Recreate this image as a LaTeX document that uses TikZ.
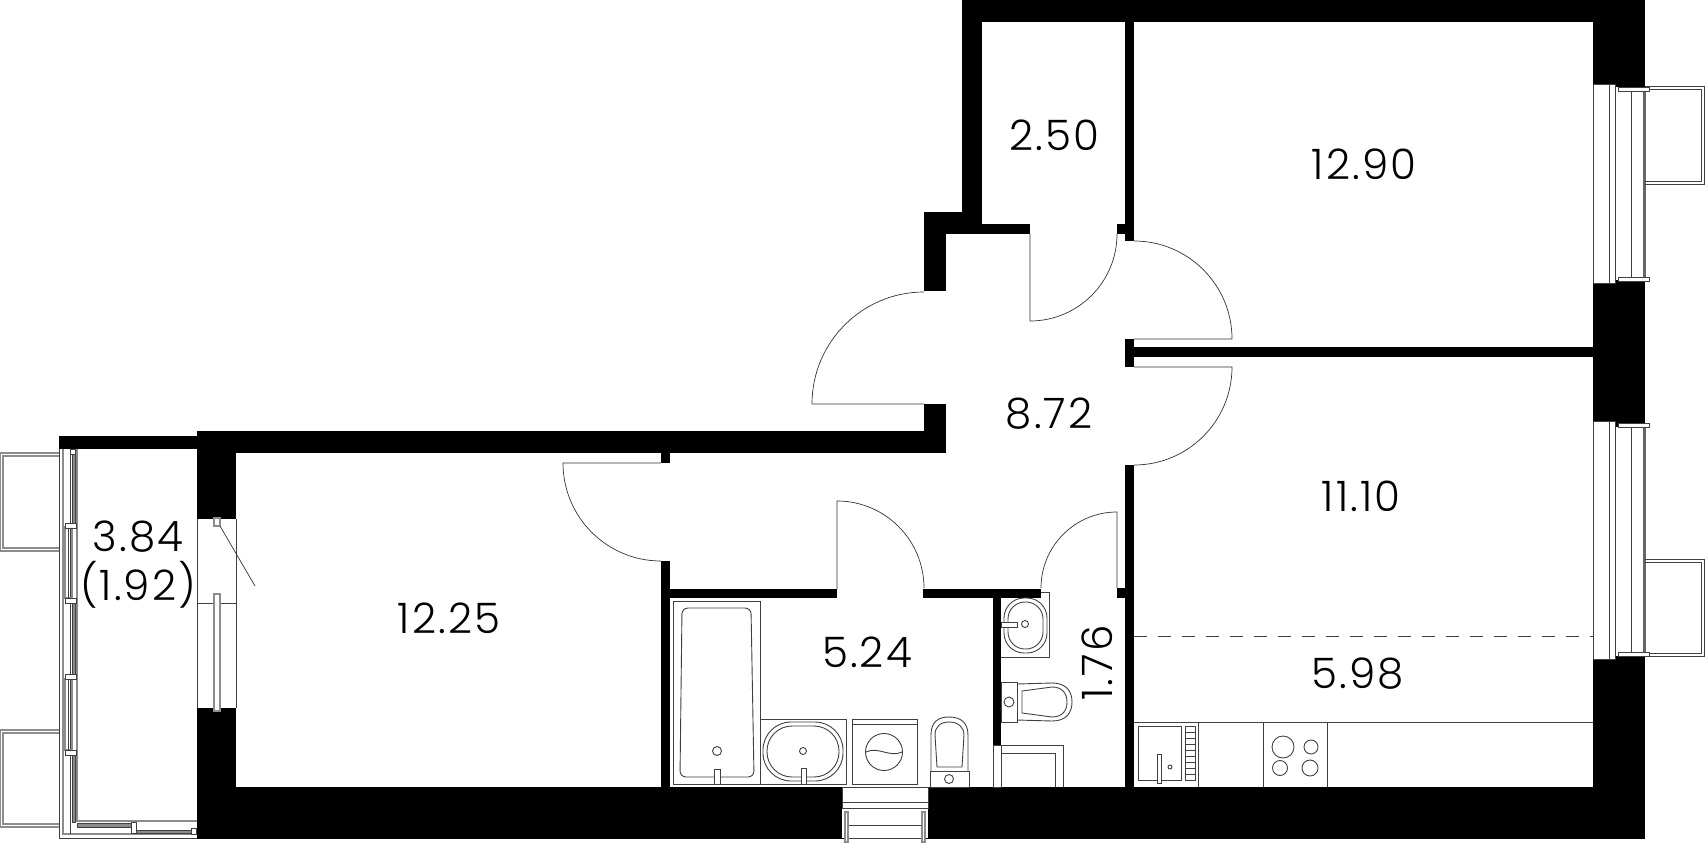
\documentclass[tikz,border=0pt]{standalone}
\usepackage{fontspec}
\setmainfont[LetterSpace=5]{Poppins Light}
\tikzset{
  wall/.style={fill=black,draw=none},
  opening/.style={fill=white,draw=black!75,line width=0.8pt},
  fine/.style={draw=black!75,line width=0.9pt},
  pale/.style={draw=black!45,line width=1.2pt},
  swing/.style={draw=black!80,line width=0.7pt},
  fixture/.style={draw=black!75,line width=0.9pt,fill=white},
  area/.style={inner sep=0pt,font=\fontsize{42}{49}\selectfont,align=center}
}
\begin{document}
\begin{tikzpicture}[x=1pt,y=-1pt]
\useasboundingbox (0,0) rectangle (1705,843);
\fill[wall] (962,0) rectangle (1645,22);
\fill[wall] (962,0) rectangle (982,234);
\fill[wall] (924,212) rectangle (982,234);
\fill[wall] (982,224) rectangle (1030,234);
\fill[wall] (924,212) rectangle (946,291);
\fill[wall] (924,404) rectangle (946,453);
\fill[wall] (197,431) rectangle (946,453);
\fill[wall] (197,431) rectangle (236,519);
\fill[wall] (197,708) rectangle (236,787);
\fill[wall] (197,787) rectangle (1645,839);
\fill[wall] (59,436) rectangle (197,449);
\fill[wall] (661,453) rectangle (670,463);
\fill[wall] (661,561) rectangle (670,787);
\fill[wall] (661,589) rectangle (837,598);
\fill[wall] (923,589) rectangle (1041,598);
\fill[wall] (993,589) rectangle (1001,745);
\fill[wall] (1117,588) rectangle (1125,598);
\fill[wall] (1125,0) rectangle (1134,241);
\fill[wall] (1117,224) rectangle (1125,234);
\fill[wall] (1125,339) rectangle (1134,367);
\fill[wall] (1134,347) rectangle (1593,357);
\fill[wall] (1125,465) rectangle (1134,787);
\fill[wall] (1593,0) rectangle (1645,839);
\draw[swing] (924,404) -- (812,404) arc[start angle=180,end angle=270,radius=112];
\draw[swing] (1030,234) -- (1030,321) arc[start angle=90,end angle=0,radius=87];
\draw[swing] (1134,339) -- (1232,339) arc[start angle=360,end angle=270,radius=98];
\draw[swing] (1134,367) -- (1232,367) arc[start angle=0,end angle=90,radius=98];
\draw[swing] (661,463) -- (563,463) arc[start angle=180,end angle=90,radius=98];
\draw[swing] (837,589) -- (837,501) arc[start angle=270,end angle=360,radius=87];
\draw[swing] (1117,588) -- (1117,512) arc[start angle=270,end angle=180,radius=76];
\foreach \ya/\yb/\yc/\yd in {84/283/87/280,421/659/427/656} {
  \fill[white] (1615,\yc) rectangle (1645,\yd);
  \draw[opening] (1593,\ya) rectangle (1609,\yb);
  \draw[opening] (1609,\ya) rectangle (1615,\yb);
  \draw[fine] (1631,\yc) -- (1631,\yd);
  \fill[black!60] (1643,\yc) rectangle (1645.5,\yd);
}
\foreach \ya/\yb in {86/184,559/656} {
  \draw[fine] (1645,\ya) -- (1704.5,\ya) -- (1704.5,\yb) -- (1645,\yb);
  \draw[fine] (1645,\ya+3) -- (1701,\ya+3) -- (1701,\yb-3) -- (1645,\yb-3);
}
\foreach \ya in {87,277,423,652}
  \draw[fixture] (1618,\ya) rectangle (1649,\ya+4);
\foreach \ya/\yb in {453/551,730/827} {
  \draw[pale] (59,\ya) -- (0.5,\ya) -- (0.5,\yb) -- (59,\yb);
  \draw[pale] (59,\ya+3) -- (3,\ya+3) -- (3,\yb-3) -- (59,\yb-3);
}
\draw[fine] (59,449) -- (59,838.5) -- (197,838.5);
\draw[pale] (63,449) -- (63,834) -- (197,834);
\draw[pale] (77,449) -- (77,821) -- (197,821);
\draw[fine] (70,449) -- (70,834);
\foreach \ya/\yb in {527/598,679/750} {
  \draw[pale] (65,\ya) rectangle (72,\yb);
  \draw[fine] (68,\ya) -- (68,\yb);
}
\foreach \ya/\yb in {454/523,603/674,755/822}
  \draw[fine,fill=black!45] (72,\ya) rectangle (75,\yb);
\foreach \ya in {523,598,674,750}
  \draw[fixture] (65,\ya) rectangle (76,\ya+5);
\draw[fixture] (70,449) rectangle (75,454);
\draw[fine,fill=black!45] (77,823) rectangle (131,827);
\draw[fine,fill=black!45] (136,830) rectangle (191,833);
\draw[fixture] (131,822) rectangle (136,833);
\draw[fixture] (191,828) rectangle (196,834);
\draw[fine] (197,519) -- (197,708);
\draw[fine] (236,519) -- (236,708);
\draw[fine] (197,603) -- (236,603);
\draw[pale,fill=white] (214,594) rectangle (220,711);
\draw[pale,fill=white] (214,518) rectangle (220,526);
\draw[swing] (220,526) -- (255,586);
\draw[fixture] (673,601) rectangle (760,784);
\draw[fine,rounded corners=6pt] (682,608) -- (751,608) -- (754,777) -- (680,777) -- cycle;
\draw[fine] (717,751) circle[radius=4.5];
\draw[fixture] (714,769) rectangle (720,784);
\draw[fixture] (760,719) rectangle (846,784);
\draw[fine,rounded corners=28pt] (763,722) rectangle (843,781);
\draw[fine,rounded corners=25pt] (767,726) rectangle (839,777);
\draw[fine] (803,751) circle[radius=3.5];
\draw[fixture] (801,768) rectangle (806,784);
\draw[fixture] (852,719) rectangle (917,784);
\draw[fine] (852,724) -- (917,724);
\draw[fine] (884,752) circle[radius=18.5];
\draw[fine] (866,752) .. controls (878,746) and (890,758) .. (902,752);
\draw[fine] (931,771) -- (931,735) .. controls (931,722) and (938,717) .. (949,717) .. controls (960,717) and (968,722) .. (968,735) -- (968,771);
\draw[fine] (937,767) -- (935,735) .. controls (935,727) and (940,722) .. (949,722) .. controls (958,722) and (964,727) .. (964,735) -- (962,767) -- cycle;
\draw[fixture] (930,771) rectangle (969,787);
\draw[fine] (949,779) circle[radius=4.5];
\draw[fine] (1001,657) -- (1049,657) -- (1049,592) -- (1041,592);
\draw[fine,rounded corners=20pt] (1004,598) rectangle (1047,653);
\draw[fine,rounded corners=17pt] (1008,602) rectangle (1043,649);
\draw[fine] (1025,624) circle[radius=3.5];
\draw[fixture] (1001,622) rectangle (1017,627);
\draw[fixture] (1001,682) rectangle (1017,722);
\draw[fine] (1009,702) circle[radius=5];
\draw[fine] (1017,684) -- (1052,683) .. controls (1065,683) and (1072,690) .. (1072,702) .. controls (1072,714) and (1065,721) .. (1052,721) -- (1017,720);
\draw[fine] (1022,691) -- (1052,687) .. controls (1062,687) and (1067,693) .. (1067,702) .. controls (1067,711) and (1062,717) .. (1052,717) -- (1022,713) -- cycle;
\draw[fixture] (993,745) rectangle (1001,787);
\draw[fine] (1001,745) -- (1063,745) -- (1063,787);
\draw[fine] (1001,753) -- (1055,753) -- (1055,787);
\fill[white] (842,787) rectangle (928,838);
\draw[fine] (842,787) rectangle (928,808);
\draw[fine] (842,802) -- (928,802);
\draw[fine] (848,825) -- (922,825);
\draw[fine] (848,838) -- (922,838);
\draw[pale,fill=white] (845,812) rectangle (848,842);
\draw[pale,fill=white] (922,812) rectangle (925,842);
\draw[fine] (1134,722) -- (1593,722);
\foreach \xa in {1198,1263,1327}
  \draw[fine] (\xa,722) -- (\xa,787);
\draw[fine] (1138,726) rectangle (1181,780);
\draw[fine] (1185,726) rectangle (1195,780);
\foreach \ya in {732,738,744,750,756,762,768,774}
  \draw[fine] (1185,\ya) -- (1195,\ya);
\draw[fixture] (1157,754) rectangle (1161,783);
\draw[fine] (1170,767) circle[radius=2];
\draw[fine] (1283,747) circle[radius=11];
\draw[fine] (1311,747) circle[radius=7];
\draw[fine] (1280,768) circle[radius=7.5];
\draw[fine] (1310,768) circle[radius=8];
\draw[fine,dash pattern=on 13pt off 11pt] (1134,636) -- (1593,636);
\node[area] (storage) at (1054,135) {2.50};
\node[area] (bedroomA) at (1364,164) {12.90};
\node[area] (hall) at (1049,414) {8.72};
\node[area] (bedroomB) at (1361,496) {11.10};
\node[area] (kitchen) at (1358,674) {5.98};
\node[area] (livingroom) at (449,618) {12.25};
\node[area] (bathroom) at (867,652) {5.24};
\node[area,rotate=90] (toilet) at (1097,663) {1.76};
\node[area] (balcony) at (138,565) {3.84\\(1.92)};
\end{tikzpicture}
\end{document}
